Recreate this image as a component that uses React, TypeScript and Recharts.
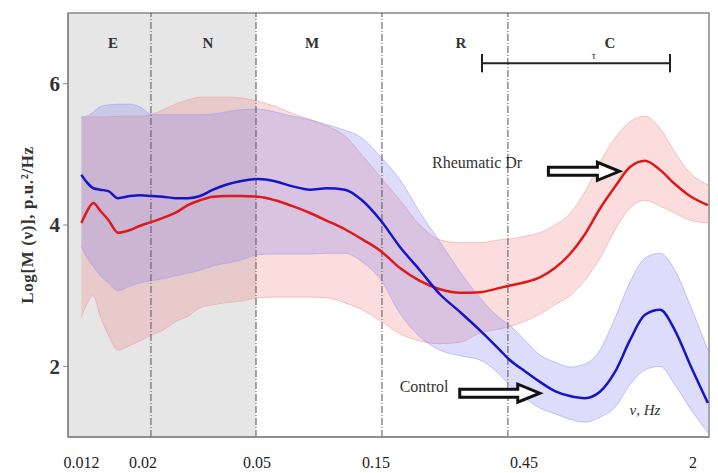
import React from "react";
import {
  ComposedChart, Area, Line, XAxis, YAxis,
  ReferenceArea, ReferenceLine, ReferenceDot,
} from "recharts";

// frequency, Hz (log axis)
const FREQ = [
  0.0109, 0.0114, 0.0121, 0.0128, 0.0138, 0.015, 0.0167, 0.0182, 0.02, 0.0222,
  0.0247, 0.0276, 0.0307, 0.0344, 0.0385, 0.0435, 0.0509, 0.059, 0.0684, 0.0801,
  0.0928, 0.1086, 0.126, 0.1487, 0.1755, 0.2088, 0.2487, 0.2962, 0.3527, 0.4198,
  0.454, 0.522, 0.595, 0.678, 0.773, 0.881, 1.004, 1.145, 1.305, 1.487,
  1.695, 1.931, 2.201, 2.576,
];

// Rheumatic Dr
const RED_MEAN = [
  4.03, 4.18, 4.31, 4.21, 4.07, 3.89, 3.93, 3.99, 4.04, 4.1,
  4.17, 4.28, 4.35, 4.4, 4.41, 4.41, 4.4, 4.35, 4.27, 4.17,
  4.06, 3.94, 3.8, 3.63, 3.39, 3.21, 3.09, 3.04, 3.05, 3.11,
  3.14, 3.19, 3.26, 3.39, 3.59, 3.87, 4.23, 4.54, 4.82, 4.91,
  4.78, 4.58, 4.41, 4.28,
];
const RED_LO = [
  2.7, 2.87, 3.0, 2.73, 2.44, 2.23, 2.3, 2.36, 2.44, 2.51,
  2.63, 2.71, 2.83, 2.87, 2.9, 2.92, 2.97, 2.98, 2.98, 2.98,
  2.97, 2.9, 2.8, 2.64, 2.46, 2.36, 2.32, 2.34, 2.47, 2.53,
  2.56, 2.64, 2.74, 2.87, 3.0, 3.22, 3.53, 3.93, 4.24, 4.35,
  4.27, 4.17, 4.07, 4.03,
];
const RED_HI = [
  5.53, 5.53, 5.53, 5.53, 5.53, 5.54, 5.54, 5.54, 5.56, 5.63,
  5.71, 5.77, 5.81, 5.81, 5.81, 5.8, 5.75, 5.68, 5.58, 5.49,
  5.4, 5.26, 4.99, 4.67, 4.35, 4.0, 3.79, 3.75, 3.75, 3.79,
  3.8, 3.84, 3.89, 4.0, 4.16, 4.47, 4.88, 5.23, 5.46, 5.54,
  5.37, 5.03, 4.74, 4.57,
];

// Control
const BLUE_MEAN = [
  4.71, 4.61, 4.52, 4.5, 4.48, 4.38, 4.41, 4.42, 4.41, 4.4,
  4.38, 4.38, 4.41, 4.5, 4.57, 4.62, 4.65, 4.62, 4.55, 4.5,
  4.52, 4.5, 4.35, 4.06, 3.69, 3.36, 3.02, 2.77, 2.51, 2.23,
  2.1, 1.93, 1.78, 1.65, 1.58, 1.55, 1.64, 1.92, 2.37, 2.73,
  2.8, 2.51, 2.03, 1.48,
];
const BLUE_LO = [
  3.69, 3.55, 3.41, 3.29, 3.18, 3.07, 3.14, 3.18, 3.21, 3.24,
  3.28, 3.32, 3.36, 3.42, 3.46, 3.5, 3.58, 3.59, 3.59, 3.59,
  3.6, 3.6, 3.48, 3.22, 2.75, 2.42, 2.23, 2.15, 2.09, 1.88,
  1.74, 1.55, 1.41, 1.33, 1.25, 1.21, 1.28, 1.42, 1.74, 1.95,
  2.0, 1.74, 1.41, 1.06,
];
const BLUE_HI = [
  5.53, 5.54, 5.6, 5.67, 5.7, 5.71, 5.71, 5.67, 5.57, 5.56,
  5.56, 5.56, 5.56, 5.57, 5.6, 5.63, 5.64, 5.6, 5.54, 5.49,
  5.42, 5.34, 5.23, 4.96, 4.64, 4.18, 3.76, 3.34, 2.97, 2.68,
  2.59, 2.37, 2.16, 2.06, 1.99, 2.03, 2.23, 2.68, 3.19, 3.53,
  3.6, 3.36, 2.87, 2.23,
];

const X_TICKS = [0.012, 0.02, 0.05, 0.15, 0.45, 2];
const Y_TICKS = [2, 4, 6];
const BOUNDS = [0.02, 0.05, 0.15, 0.45];
const BANDS = [
  { name: "E", f: 0.01436 },
  { name: "N", f: 0.0329 },
  { name: "M", f: 0.0815 },
  { name: "R", f: 0.299 },
  { name: "C", f: 1.096 },
];

const XMIN = 0.0097;
const XMAX = 2.6;
const SERIF = "'Liberation Serif', 'DejaVu Serif', serif";

// label nudges so tick text sits where the original put it
const TICK_SHIFT: Record<string, number> = {
  "0.012": -11, "0.02": -8, "0.05": 1, "0.15": -6, "0.45": 16, "2": 14,
};

const data = FREQ.map((f, i) => ({
  f,
  red: RED_MEAN[i],
  redBand: [RED_LO[i], RED_HI[i]],
  blue: BLUE_MEAN[i],
  blueBand: [BLUE_LO[i], BLUE_HI[i]],
}));

const XTick = ({ x, y, payload }: any) => (
  <text
    x={x + (TICK_SHIFT[String(payload.value)] ?? 0)}
    y={y}
    dy="0.71em"
    textAnchor="middle"
    fontFamily={SERIF}
    fontSize={16}
    fill="#222"
  >
    {payload.value}
  </text>
);

const Arrow = ({ cx, cy, len }: any) => {
  const h = 22;
  const pts = [
    [cx - len, cy - 4], [cx - h, cy - 4], [cx - h, cy - 9], [cx, cy],
    [cx - h, cy + 9], [cx - h, cy + 4], [cx - len, cy + 4],
  ].map((p) => p.join(",")).join(" ");
  return <polygon points={pts} fill="#fff" stroke="#111" strokeWidth={3} strokeLinejoin="miter" />;
};

const Note = ({ cx, cy, text, size, anchor, italic, bold }: any) => (
  <text
    x={cx}
    y={cy}
    dy="0.35em"
    textAnchor={anchor || "start"}
    fontFamily={SERIF}
    fontSize={size}
    fontStyle={italic ? "italic" : "normal"}
    fontWeight={bold ? 700 : 400}
    fill="#333"
  >
    {text}
  </text>
);

export default function App() {
  return (
    <div style={{ width: 718, height: 473, background: "#fff" }}>
      <style>{"body{margin:0}"}</style>
      <ComposedChart
        width={718}
        height={473}
        data={data}
        margin={{ top: 13, right: 9, bottom: 0, left: 0 }}
      >
        <XAxis
          dataKey="f"
          type="number"
          scale="log"
          domain={[XMIN, XMAX]}
          allowDataOverflow
          ticks={X_TICKS}
          tick={<XTick />}
          tickLine={false}
          tickMargin={14}
          height={36}
          axisLine={{ stroke: "#888", strokeWidth: 1.5 }}
        />
        <YAxis
          type="number"
          domain={[1, 7]}
          ticks={Y_TICKS}
          width={68}
          tickSize={5}
          tickMargin={3}
          tickLine={{ stroke: "#888" }}
          axisLine={{ stroke: "#888", strokeWidth: 1.5 }}
          tick={{ fontFamily: SERIF, fontSize: 21, fontWeight: 700, fill: "#333" }}
          label={{
            value: "Log[M (ν)], p.u.²/Hz",
            angle: -90,
            position: "center",
            dx: -7,
            style: {
              fontFamily: SERIF, fontSize: 17, fontWeight: 700, fill: "#333",
              textAnchor: "middle", letterSpacing: 0.6,
            },
          }}
        />

        <ReferenceArea x1={XMIN} x2={0.05} y1={1} y2={7} fill="#e6e6e6" fillOpacity={1} stroke="none" />

        <Area
          dataKey="redBand"
          type="monotone"
          fill="#f07878"
          fillOpacity={0.25}
          stroke="#f0a0a0"
          strokeOpacity={0.6}
          isAnimationActive={false}
        />
        <Area
          dataKey="blueBand"
          type="monotone"
          fill="#7878f0"
          fillOpacity={0.25}
          stroke="#a0a0f0"
          strokeOpacity={0.6}
          isAnimationActive={false}
        />

        {BOUNDS.map((b) => (
          <ReferenceLine key={b} x={b} stroke="#555" strokeWidth={1} strokeDasharray="7 2 1 2" />
        ))}

        <Line dataKey="red" type="monotone" stroke="#dd1a1a" strokeWidth={2.5} dot={false} isAnimationActive={false} />
        <Line dataKey="blue" type="monotone" stroke="#1515c8" strokeWidth={2.5} dot={false} isAnimationActive={false} />

        {/* frame */}
        <ReferenceArea x1={XMIN} x2={XMAX} y1={1} y2={7} fill="none" stroke="#888" strokeWidth={1.5} />

        {BANDS.map((b) => (
          <ReferenceDot
            key={b.name}
            x={b.f}
            y={6.58}
            shape={(p: any) => (
              <Note cx={p.cx} cy={p.cy} text={b.name} size={15} anchor="middle" bold />
            )}
          />
        ))}

        {/* time-scale bar */}
        <ReferenceLine segment={[{ x: 0.359, y: 6.29 }, { x: 1.85, y: 6.29 }]} stroke="#222" strokeWidth={2} />
        <ReferenceLine segment={[{ x: 0.359, y: 6.16 }, { x: 0.359, y: 6.42 }]} stroke="#222" strokeWidth={2} />
        <ReferenceLine segment={[{ x: 1.85, y: 6.16 }, { x: 1.85, y: 6.42 }]} stroke="#222" strokeWidth={2} />
        <ReferenceDot
          x={0.952}
          y={6.4}
          shape={(p: any) => <Note cx={p.cx} cy={p.cy} text="τ" size={10} anchor="middle" />}
        />

        <ReferenceDot
          x={0.232}
          y={4.89}
          shape={(p: any) => <Note cx={p.cx} cy={p.cy} text="Rheumatic Dr" size={16} />}
        />
        <ReferenceDot x={1.19} y={4.76} shape={(p: any) => <Arrow cx={p.cx} cy={p.cy} len={71} />} />

        <ReferenceDot
          x={0.175}
          y={1.71}
          shape={(p: any) => <Note cx={p.cx} cy={p.cy} text="Control" size={16} />}
        />
        <ReferenceDot x={0.594} y={1.62} shape={(p: any) => <Arrow cx={p.cx} cy={p.cy} len={80} />} />

        <ReferenceDot
          x={1.3}
          y={1.38}
          shape={(p: any) => <Note cx={p.cx} cy={p.cy} text="ν, Hz" size={15} italic />}
        />
      </ComposedChart>
    </div>
  );
}
